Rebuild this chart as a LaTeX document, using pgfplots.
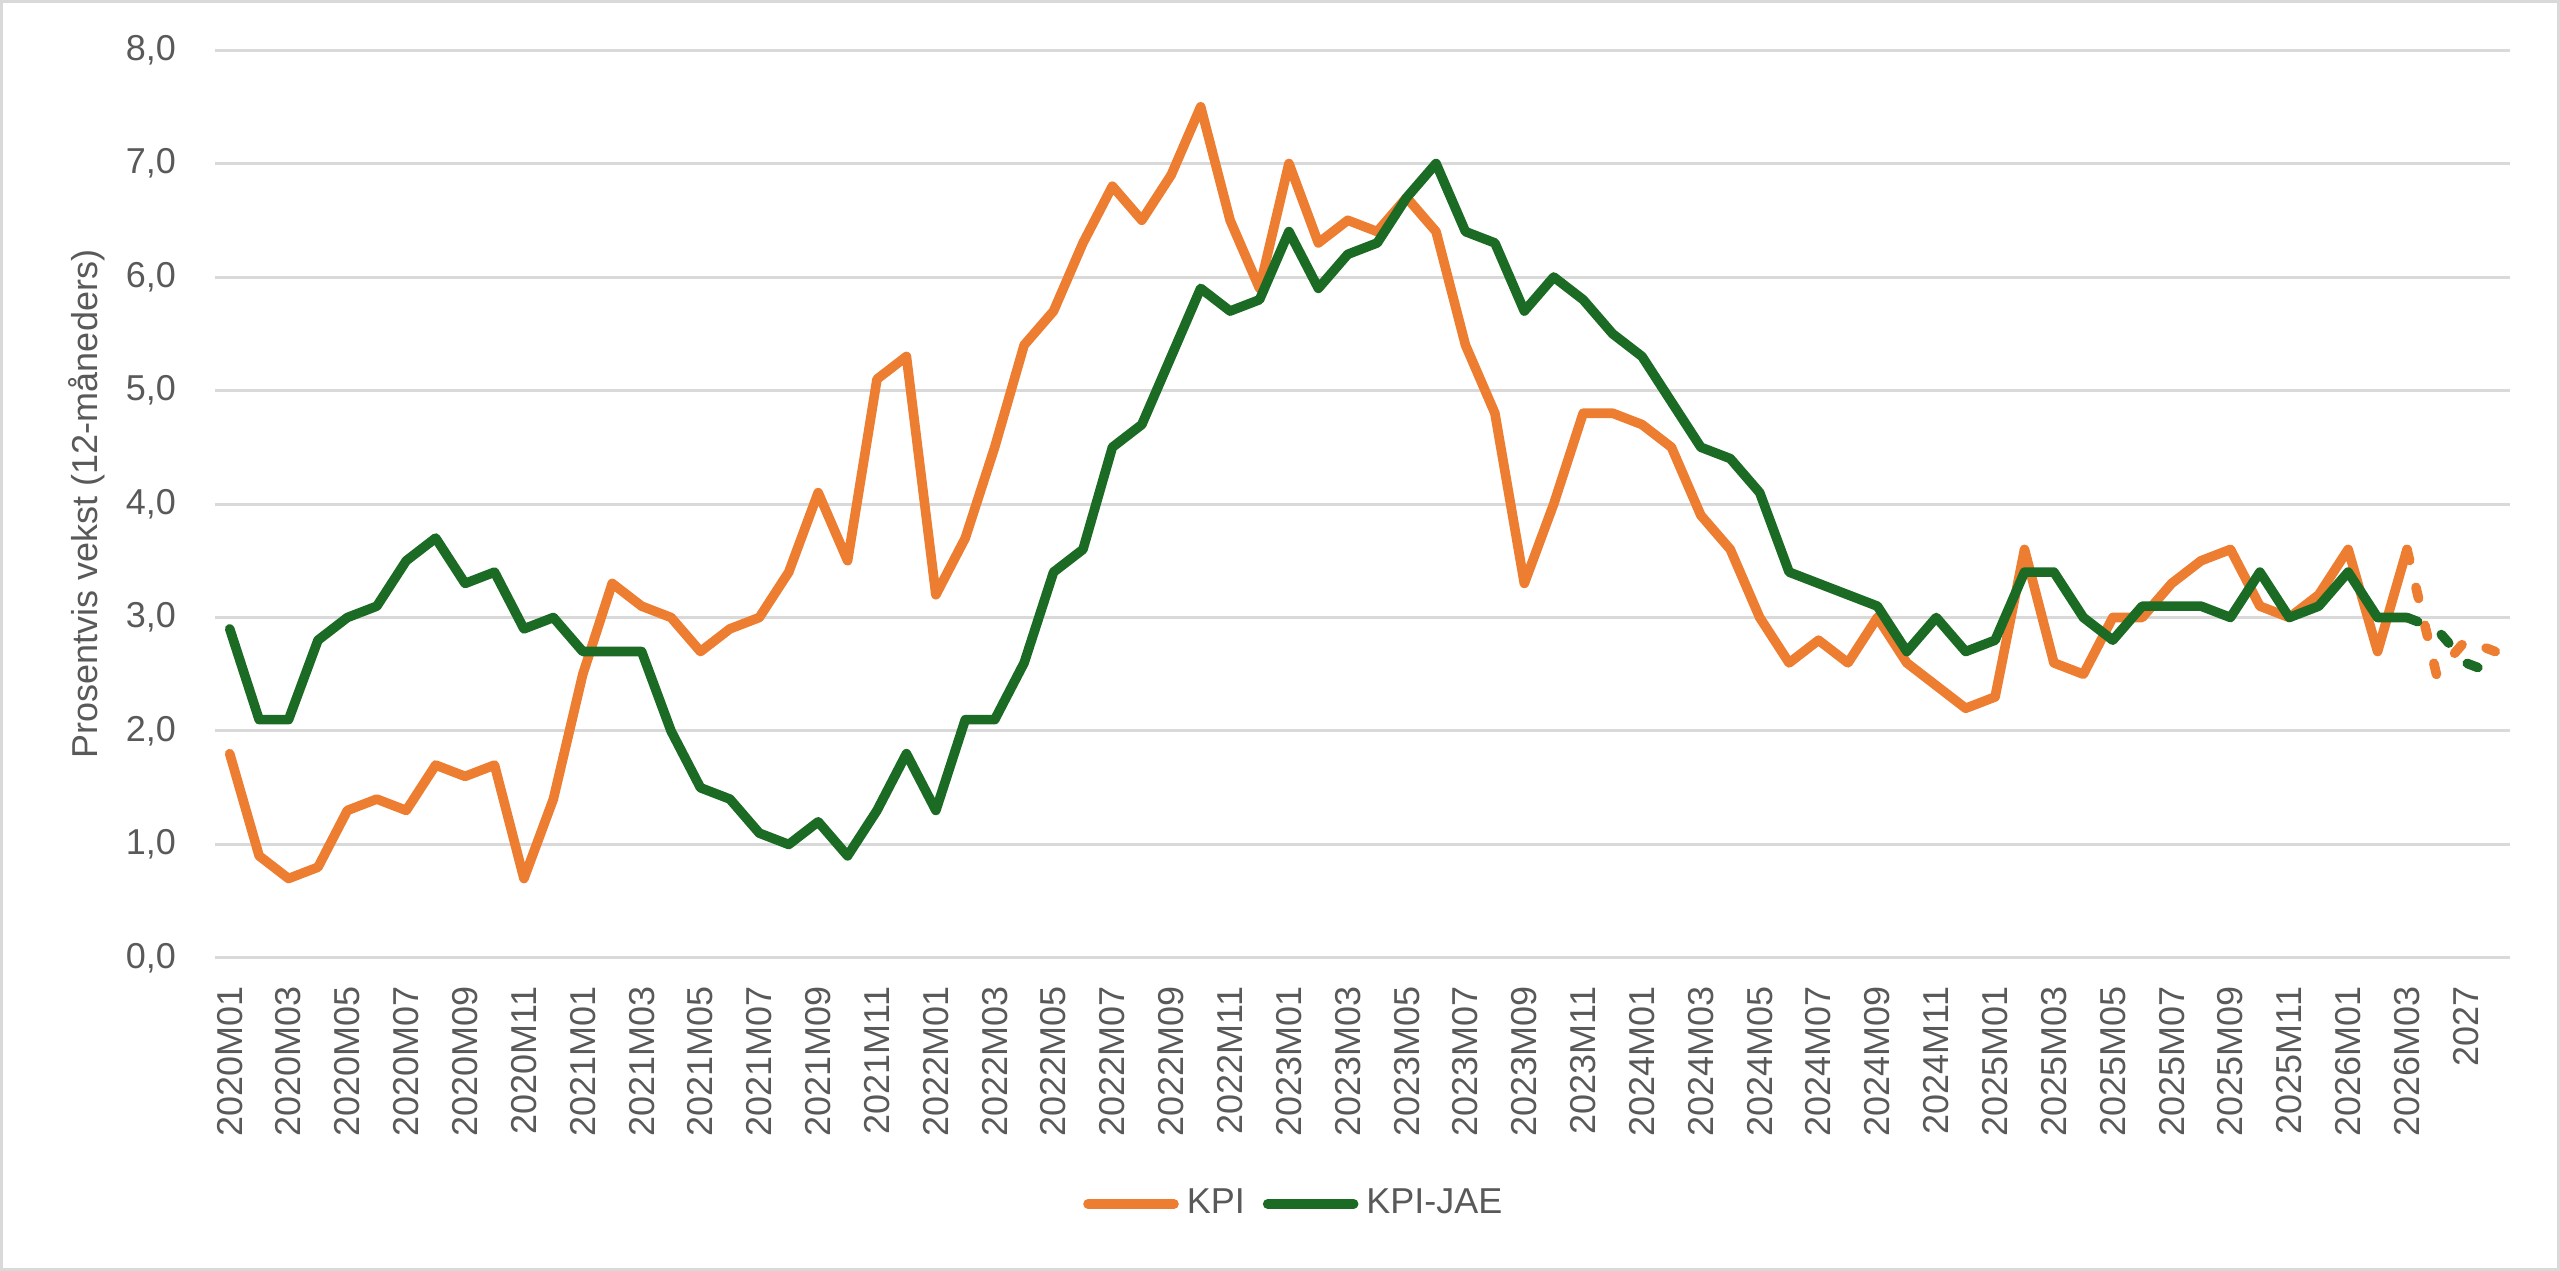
\documentclass[border=0pt]{standalone}
\usepackage{fontspec}
\setmainfont{Liberation Sans}
\usepackage{pgfplots}
\pgfplotsset{compat=1.18}
\usepackage{pgfplotstable}

\definecolor{kpi}{HTML}{ED7D31}
\definecolor{jae}{HTML}{1B6B25}
\definecolor{gridc}{HTML}{D9D9D9}
\definecolor{txt}{HTML}{595959}

% 12-maaneders vekst, 2020M01 = 0
\pgfplotstableread{
idx kpi jae
0 1.8 2.9
1 0.9 2.1
2 0.7 2.1
3 0.8 2.8
4 1.3 3.0
5 1.4 3.1
6 1.3 3.5
7 1.7 3.7
8 1.6 3.3
9 1.7 3.4
10 0.7 2.9
11 1.4 3.0
12 2.5 2.7
13 3.3 2.7
14 3.1 2.7
15 3.0 2.0
16 2.7 1.5
17 2.9 1.4
18 3.0 1.1
19 3.4 1.0
20 4.1 1.2
21 3.5 0.9
22 5.1 1.3
23 5.3 1.8
24 3.2 1.3
25 3.7 2.1
26 4.5 2.1
27 5.4 2.6
28 5.7 3.4
29 6.3 3.6
30 6.8 4.5
31 6.5 4.7
32 6.9 5.3
33 7.5 5.9
34 6.5 5.7
35 5.9 5.8
36 7.0 6.4
37 6.3 5.9
38 6.5 6.2
39 6.4 6.3
40 6.7 6.7
41 6.4 7.0
42 5.4 6.4
43 4.8 6.3
44 3.3 5.7
45 4.0 6.0
46 4.8 5.8
47 4.8 5.5
48 4.7 5.3
49 4.5 4.9
50 3.9 4.5
51 3.6 4.4
52 3.0 4.1
53 2.6 3.4
54 2.8 3.3
55 2.6 3.2
56 3.0 3.1
57 2.6 2.7
58 2.4 3.0
59 2.2 2.7
60 2.3 2.8
61 3.6 3.4
62 2.6 3.4
63 2.5 3.0
64 3.0 2.8
65 3.0 3.1
66 3.3 3.1
67 3.5 3.1
68 3.6 3.0
69 3.1 3.4
70 3.0 3.0
71 3.2 3.1
72 3.6 3.4
73 2.7 3.0
74 3.6 3.0
}\hist

% anslag
\pgfplotstableread{
idx kpi jae
74 3.6 3.0
75 2.5 2.9
76 2.8 2.6
77 2.7 2.5
}\proj

\begin{document}
\begin{tikzpicture}
\useasboundingbox (0,0) rectangle (640pt,317.75pt);
\draw[gridc, line width=0.75pt] (0.375pt,0.375pt) rectangle (639.625pt,317.375pt);
\begin{axis}[
    at={(53.75pt,78.25pt)}, anchor=south west,
    scale only axis, width=573.75pt, height=227pt,
    xmin=-0.5, xmax=77.5, ymin=0, ymax=8,
    xtick={0,2,...,76},
    xticklabels={2020M01,2020M03,2020M05,2020M07,2020M09,2020M11,
                 2021M01,2021M03,2021M05,2021M07,2021M09,2021M11,
                 2022M01,2022M03,2022M05,2022M07,2022M09,2022M11,
                 2023M01,2023M03,2023M05,2023M07,2023M09,2023M11,
                 2024M01,2024M03,2024M05,2024M07,2024M09,2024M11,
                 2025M01,2025M03,2025M05,2025M07,2025M09,2025M11,
                 2026M01,2026M03,2027},
    ytick={0,1,...,8},
    axis line style={draw=none},
    major tick length=0pt,
    ymajorgrids, grid style={gridc, line width=0.75pt},
    tick label style={font=\fontsize{9}{11}\selectfont, text=txt},
    xticklabel style={rotate=90, anchor=east, inner xsep=7pt, inner ysep=0pt},
    yticklabel style={inner xsep=0pt, xshift=-9.6pt,
        /pgf/number format/fixed, /pgf/number format/fixed zerofill,
        /pgf/number format/precision=1, /pgf/number format/use comma,
        /pgf/number format/assume math mode=true},
    ylabel={Prosentvis vekst (12-måneders)},
    ylabel style={at={(axis description cs:-0.0558,0.5)}, anchor=center,
        font=\fontsize{9}{11}\selectfont, text=txt},
    legend style={at={(0.4714,-0.2709)}, anchor=center, draw=none, fill=none,
        font=\fontsize{9}{11}\selectfont, text=txt, legend columns=-1,
        /tikz/every even column/.append style={column sep=2.5pt}},
    legend image code/.code={\draw[#1] (0pt,0pt) -- (21.5pt,0pt);},
    every axis plot/.append style={line width=2.4pt, line join=round, line cap=round},
]
\addplot[kpi] table[x=idx, y=kpi]{\hist};
\addlegendentry{KPI}
\addplot[jae] table[x=idx, y=jae]{\hist};
\addlegendentry{KPI-JAE}
\addplot[kpi, dash pattern=on 2.85pt off 6.9pt, forget plot] table[x=idx, y=kpi]{\proj};
\addplot[jae, dash pattern=on 2.85pt off 6.9pt, forget plot] table[x=idx, y=jae]{\proj};
\end{axis}
\end{tikzpicture}
\end{document}
